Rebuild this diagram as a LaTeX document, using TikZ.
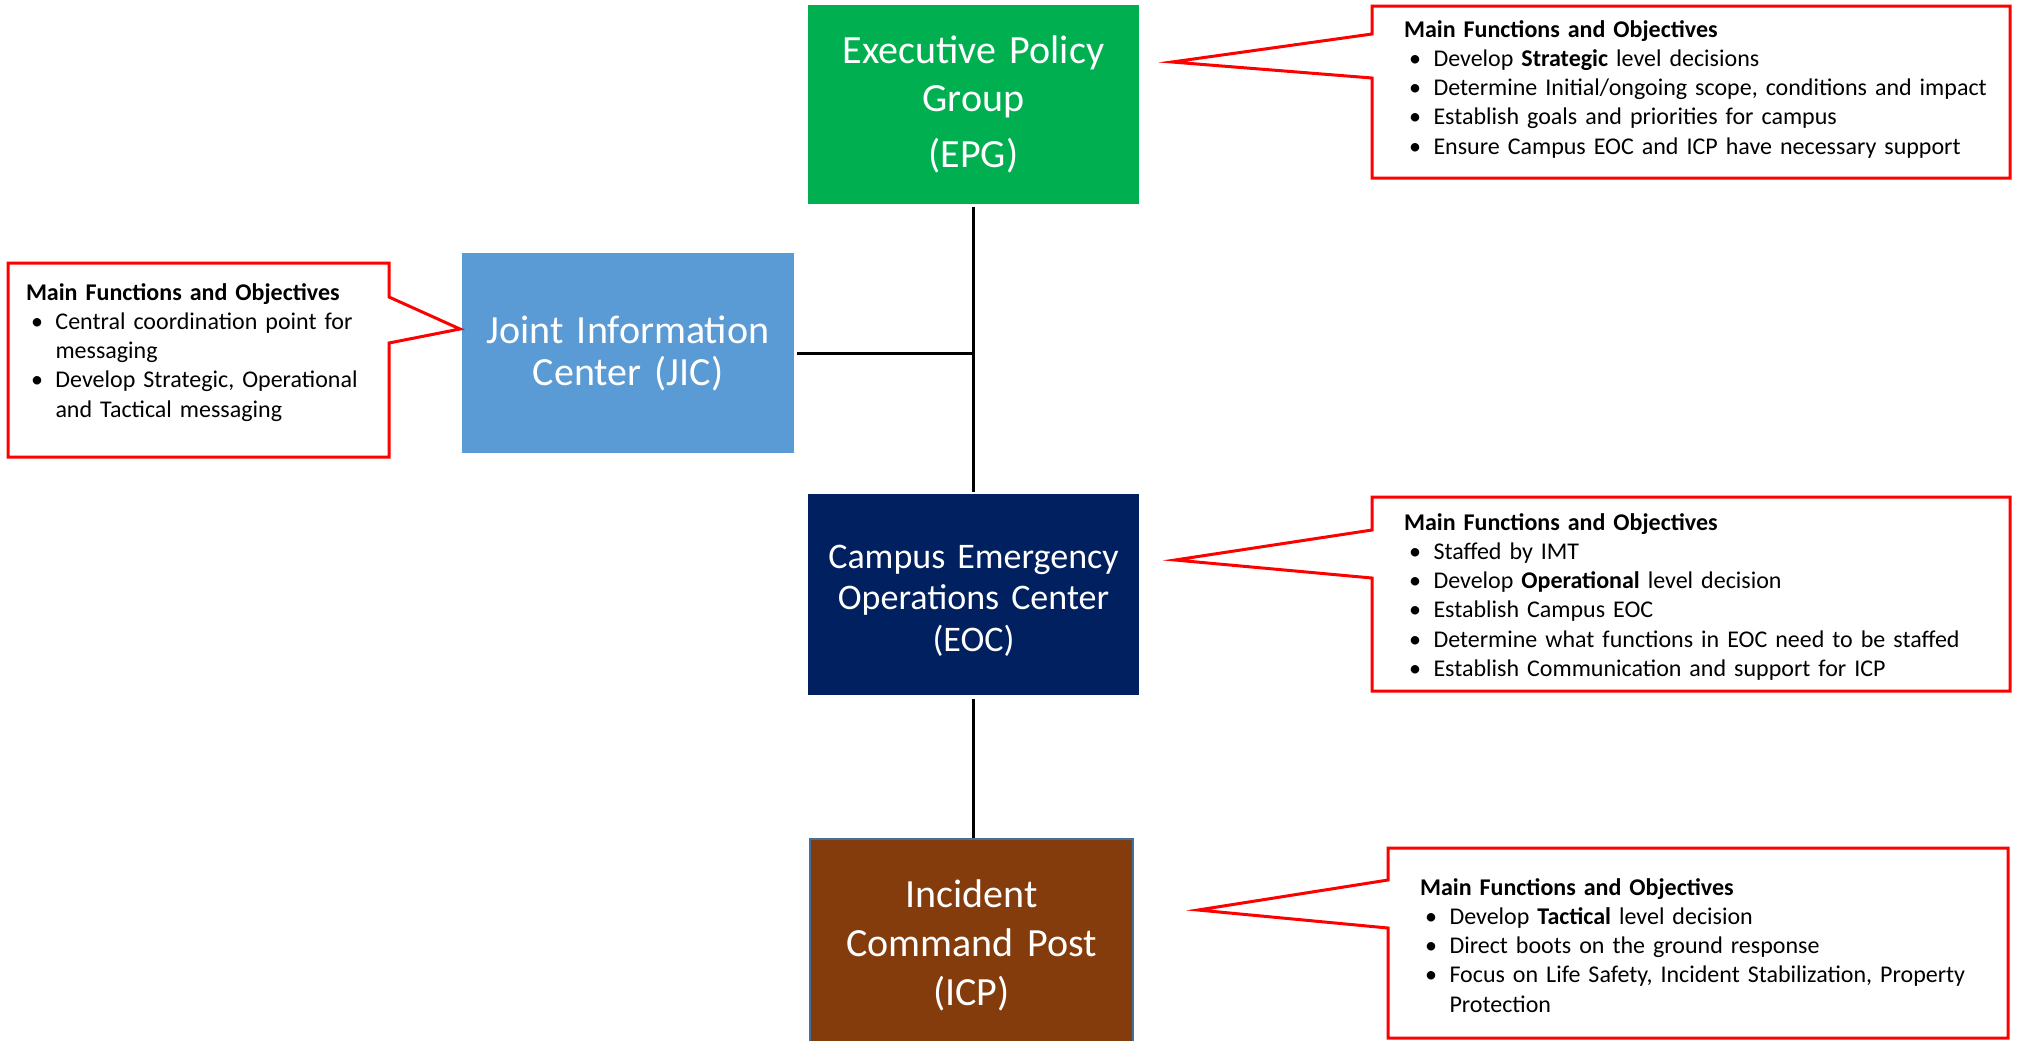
\documentclass[tikz,border=0pt]{standalone}
\usepackage{fontspec}
\setmainfont{Carlito}
\definecolor{epggreen}{HTML}{00B050}
\definecolor{jicblue}{HTML}{5B9BD5}
\definecolor{eocnavy}{HTML}{002060}
\definecolor{icpbrown}{HTML}{843C0C}
\definecolor{icpedge}{HTML}{41719C}
\definecolor{callred}{HTML}{FF0000}
\newcommand\bl[1]{\par\hangindent=14.75pt\hangafter=1\noindent\makebox[14.75pt][l]{\hspace{2.5pt}\textbullet}#1}
\tikzset{
  orgbox/.style={inner sep=0pt, outer sep=0pt, text=white, align=center},
  conn/.style={line width=1.5pt, draw=black},
  callout/.style={draw=callred, line width=1.5pt, fill=white, line join=miter},
  ctext/.style={anchor=base west, inner sep=0pt, outer sep=0pt, align=left,
    font=\fontsize{12}{14.65}\selectfont},
}
\begin{document}
\begin{tikzpicture}[x=0.5pt, y=-0.5pt]
\useasboundingbox (0,0) rectangle (2021,1040);

% boxes
\node[orgbox, fill=epggreen, minimum width=165.5pt, minimum height=99.5pt, text width=160pt,
  font=\fontsize{20}{24}\selectfont] (epg) at (973.5,104.5) {Executive Policy\\Group\\[4pt](EPG)};
\node[orgbox, fill=jicblue, minimum width=166pt, minimum height=100pt, text width=160pt,
  font=\fontsize{20}{21}\selectfont] (jic) at (628,353) {Joint Information\\Center (JIC)};
\node[orgbox, fill=eocnavy, minimum width=165.5pt, minimum height=100.5pt, text width=160pt,
  font=\fontsize{18}{20.75}\selectfont] (eoc) at (973.5,594.5) {\rule{0pt}{17.5pt}Campus Emergency\\Operations Center\\(EOC)};
\node[orgbox, fill=icpbrown, draw=icpedge, line width=1pt, minimum width=161.5pt, minimum height=106.5pt, text width=155pt,
  font=\fontsize{20}{24.5}\selectfont] (icp) at (971.5,945.5) {Incident\\Command Post\\(ICP)};

% connectors
\draw[conn, shorten <=1.5pt, shorten >=1pt] (epg.south) -- (eoc.north);
\draw[conn, shorten <=1.5pt] (jic.east) -- (jic.east -| epg.south);
\draw[conn, shorten <=2pt, shorten >=0.5pt] (eoc.south) -- (eoc.south |- icp.north);

% callouts
\coordinate (tipepg) at (1172,62);
\coordinate (tipjic) at (460,329);
\coordinate (tipeoc) at (1175,560);
\coordinate (tipicp) at (1198,910);
\draw[callout] (1372,6) -- (2010,6) -- (2010,178) -- (1372,178) -- (1372,78) -- (tipepg) -- (1372,34) -- cycle;
\draw[callout] (8,263) -- (389,263) -- (389,297) -- (tipjic) -- (389,343) -- (389,457) -- (8,457) -- cycle;
\draw[callout] (1372,497) -- (2010,497) -- (2010,691) -- (1372,691) -- (1372,578) -- (tipeoc) -- (1372,530) -- cycle;
\draw[callout] (1388,848) -- (2008,848) -- (2008,1038) -- (1388,1038) -- (1388,928) -- (tipicp) -- (1388,880) -- cycle;

% callout texts
\node[ctext, text width=330pt] (tepg) at (1404,37) {\textbf{Main Functions and Objectives}
  \bl{Develop \textbf{Strategic} level decisions}
  \bl{Determine Initial/ongoing scope, conditions and impact}
  \bl{Establish goals and priorities for campus}
  \bl{Ensure Campus EOC and ICP have necessary support}\par};
\node[ctext, text width=200pt] (tjic) at (26,300) {\textbf{Main Functions and Objectives}
  \bl{Central coordination point for\newline messaging}
  \bl{Develop Strategic, Operational\newline and Tactical messaging}\par};
\node[ctext, text width=330pt] (teoc) at (1404,530) {\textbf{Main Functions and Objectives}
  \bl{Staffed by IMT}
  \bl{Develop \textbf{Operational} level decision}
  \bl{Establish Campus EOC}
  \bl{Determine what functions in EOC need to be staffed}
  \bl{Establish Communication and support for ICP}\par};
\node[ctext, text width=330pt] (ticp) at (1420,895) {\textbf{Main Functions and Objectives}
  \bl{Develop \textbf{Tactical} level decision}
  \bl{Direct boots on the ground response}
  \bl{Focus on Life Safety, Incident Stabilization, Property\newline Protection}\par};
\end{tikzpicture}
\end{document}
